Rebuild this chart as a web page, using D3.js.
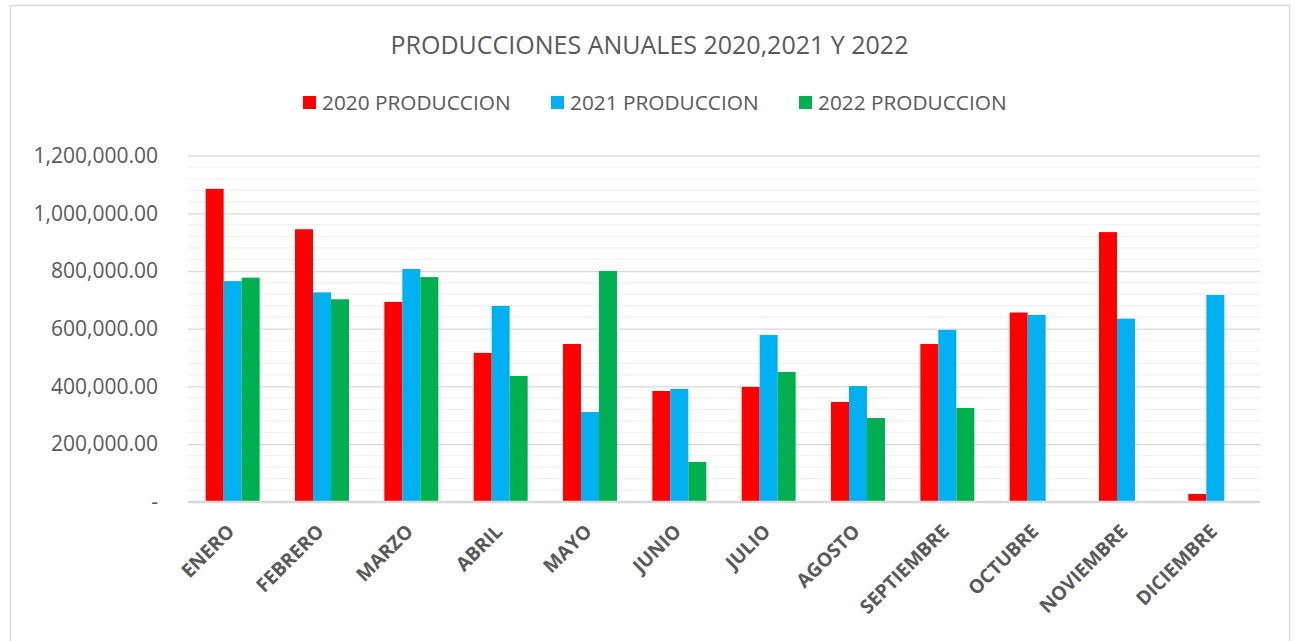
<!DOCTYPE html>
<html>
<head>
<meta charset="utf-8">
<script src="https://cdn.jsdelivr.net/npm/d3@7"></script>
<style>
    body { margin: 0; background: #ffffff; }
    text { font-family: "Open Sans", sans-serif; fill: #595959; }
</style>
</head>
<body>
<div id="canvas"></div>
<script>
"use strict";

// Chart data
let months = ["ENERO", "FEBRERO", "MARZO", "ABRIL", "MAYO", "JUNIO",
              "JULIO", "AGOSTO", "SEPTIEMBRE", "OCTUBRE", "NOVIEMBRE", "DICIEMBRE"];
let seriesNames = ["2020 PRODUCCION", "2021 PRODUCCION", "2022 PRODUCCION"];
let prod2020 = [1085000, 945000, 693000, 516000, 547000, 384000, 398000, 346000, 547000, 656000, 935000, 27000];
let prod2021 = [765000, 726000, 807000, 679000, 311000, 391000, 578000, 401000, 596000, 648000, 635000, 717000];
let prod2022 = [777000, 702000, 779000, 436000, 800000, 138000, 450000, 290000, 325000, null, null, null];
let yTicks = [0, 200000, 400000, 600000, 800000, 1000000, 1200000];

let svgWidth = 1296;
let svgHeight = 641;
let margin = { top: 155.7, right: 36, bottom: 139.3, left: 188 };
let colors = ["#ff0000", "#00b0f0", "#00b050"];

let svg = d3.select("#canvas")
    .append("svg")
    .attr("width", svgWidth)
    .attr("height", svgHeight);

// chart area border
svg.append("rect")
    .attr("x", 10.5)
    .attr("y", 5.5)
    .attr("width", 1279)
    .attr("height", 660)
    .attr("fill", "white")
    .attr("stroke", "#d9d9d9")
    .attr("stroke-width", 1.5);

// Scales
let xScale = d3.scaleBand()
    .domain(months)
    .range([margin.left, svgWidth - margin.right])
    .paddingInner(0.3955)
    .paddingOuter(0.3955 / 2);

let xInner = d3.scaleBand()
    .domain(seriesNames)
    .range([0, xScale.bandwidth()]);

let yScale = d3.scaleLinear()
    .domain([0, 1200000])
    .range([svgHeight - margin.bottom, margin.top]);

// minor gridlines every 40,000
let minorTicks = d3.range(0, 1200001, 40000).filter(function(v) { return v % 200000 !== 0; });
svg.selectAll("line.minor")
    .data(minorTicks)
    .join("line")
    .attr("class", "minor")
    .attr("x1", margin.left)
    .attr("x2", svgWidth - margin.right)
    .attr("y1", function(d) { return yScale(d); })
    .attr("y2", function(d) { return yScale(d); })
    .attr("stroke", "#f2f2f2")
    .attr("stroke-width", 1.2);

// major gridlines + y axis labels
let yAxis = d3.axisLeft(yScale)
    .tickValues(yTicks)
    .tickSize(-(svgWidth - margin.right - margin.left))
    .tickPadding(30)
    .tickFormat(function(d) { return d === 0 ? "-" : d3.format(",.2f")(d); });

let yAxisG = svg.append("g")
    .attr("transform", "translate(" + margin.left + ",0)")
    .call(yAxis);
yAxisG.select(".domain").remove();
yAxisG.selectAll(".tick line")
    .attr("stroke", "#d9d9d9")
    .attr("stroke-width", function(d) { return d === 0 ? 2 : 1.3; });
yAxisG.selectAll(".tick text")
    .style("font-family", "'Open Sans', sans-serif")
    .style("font-size", "21px")
    .attr("fill", "#595959");

// Bars
let allSeries = [prod2020, prod2021, prod2022];
for (let s = 0; s < allSeries.length; s++) {
    let values = allSeries[s];
    let barData = months.map(function(m, i) { return { month: m, value: values[i] }; })
        .filter(function(d) { return d.value !== null; });
    svg.selectAll("rect.s" + s)
        .data(barData)
        .join("rect")
        .attr("class", "s" + s)
        .attr("x", function(d) { return xScale(d.month) + xInner(seriesNames[s]); })
        .attr("width", xInner.bandwidth())
        .attr("y", function(d) { return yScale(d.value); })
        .attr("height", function(d) { return yScale(0) - yScale(d.value); })
        .attr("fill", colors[s]);
}

// baseline on top of the bars
svg.append("line")
    .attr("x1", margin.left)
    .attr("x2", svgWidth - margin.right)
    .attr("y1", yScale(0))
    .attr("y2", yScale(0))
    .attr("stroke", "#d9d9d9")
    .attr("stroke-width", 2);

// X labels (rotated)
svg.selectAll("text.xlabel")
    .data(months)
    .join("text")
    .attr("class", "xlabel")
    .attr("text-anchor", "end")
    .attr("transform", function(d) {
        let cx = xScale(d) + xScale.bandwidth() / 2 + 3;
        return "translate(" + cx + "," + (yScale(0) + 31) + ") rotate(-45)";
    })
    .style("font-size", "19.3px")
    .style("font-weight", "bold")
    .text(function(d) { return d; });

// Title
svg.append("text")
    .attr("x", 649.5)
    .attr("y", 54)
    .attr("text-anchor", "middle")
    .style("font-size", "25px")
    .text("PRODUCCIONES ANUALES 2020,2021 Y 2022");

// Legend
let legendX = [303, 551, 799];
for (let i = 0; i < seriesNames.length; i++) {
    svg.append("rect")
        .attr("x", legendX[i])
        .attr("y", 96)
        .attr("width", 13)
        .attr("height", 13)
        .attr("fill", colors[i]);
    svg.append("text")
        .attr("x", legendX[i] + 19)
        .attr("y", 110)
        .style("font-size", "20.8px")
        .text(seriesNames[i]);
}
</script>
</body>
</html>
